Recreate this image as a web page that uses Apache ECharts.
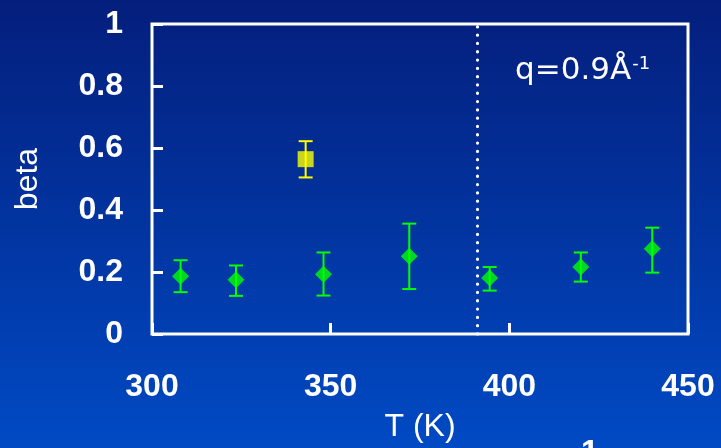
<!DOCTYPE html>
<html>
<head>
<meta charset="utf-8">
<script src="https://cdn.jsdelivr.net/npm/echarts@6/dist/echarts.min.js"></script>
<style>
  html, body { margin: 0; padding: 0; }
  #chart { width: 721px; height: 448px; }
</style>
</head>
<body>
<div id="chart"></div>
<script>
// Stretching exponent beta versus temperature
const temps    = [308, 323.5, 348, 372, 394.5, 420, 440];
const betaVals = [0.186, 0.175, 0.193, 0.251, 0.181, 0.216, 0.275];
const betaLow  = [0.135, 0.123, 0.124, 0.145, 0.140, 0.169, 0.198];
const betaHigh = [0.238, 0.221, 0.263, 0.356, 0.216, 0.263, 0.343];

// Single highlighted point
const oddTemp = [343];
const oddBeta = [0.564];
const oddLow  = [0.505];
const oddHigh = [0.622];

// Transition temperature marker
const transitionT = 391;

const xTicks = [300, 350, 400, 450];
const yTicks = [0, 0.2, 0.4, 0.6, 0.8, 1];

const mainPoints = temps.map((t, i) => [t, betaVals[i]]);
const mainBars   = temps.map((t, i) => [t, betaLow[i], betaHigh[i]]);
const oddPoints  = oddTemp.map((t, i) => [t, oddBeta[i]]);
const oddBars    = oddTemp.map((t, i) => [t, oddLow[i], oddHigh[i]]);

function errorBar(color) {
  return function (params, api) {
    const x = api.value(0);
    const lo = api.coord([x, api.value(1)]);
    const hi = api.coord([x, api.value(2)]);
    const half = 7;
    const style = { stroke: color, lineWidth: 2 };
    return {
      type: 'group',
      children: [
        { type: 'line', shape: { x1: lo[0], y1: lo[1], x2: hi[0], y2: hi[1] }, style },
        { type: 'line', shape: { x1: lo[0] - half, y1: lo[1], x2: lo[0] + half, y2: lo[1] }, style },
        { type: 'line', shape: { x1: hi[0] - half, y1: hi[1], x2: hi[0] + half, y2: hi[1] }, style }
      ]
    };
  };
}

const chart = echarts.init(document.getElementById('chart'), null, { renderer: 'canvas' });

chart.setOption({
  animation: false,
  backgroundColor: {
    type: 'linear', x: 0, y: 0, x2: 0, y2: 1,
    colorStops: [
      { offset: 0, color: '#041e7c' },
      { offset: 1, color: '#004ac4' }
    ]
  },
  grid: {
    left: 152, right: 33, top: 24, bottom: 112,
    show: true,
    borderColor: '#ffffff',
    borderWidth: 3,
    backgroundColor: 'transparent'
  },
  xAxis: {
    type: 'value',
    min: xTicks[0], max: xTicks[xTicks.length - 1], interval: 50,
    name: 'T (K)',
    nameLocation: 'middle',
    nameGap: 77,
    nameTextStyle: { color: '#ffffff', fontSize: 32, fontFamily: 'Liberation Sans' },
    axisLine: { show: false },
    axisTick: { show: true, inside: true, length: 11, lineStyle: { color: '#ffffff', width: 3 } },
    axisLabel: { color: '#ffffff', fontSize: 32, fontWeight: 'bold', fontFamily: 'Liberation Sans', margin: 37 },
    splitLine: { show: false }
  },
  yAxis: {
    type: 'value',
    min: yTicks[0], max: yTicks[yTicks.length - 1], interval: 0.2,
    name: 'beta',
    nameLocation: 'middle',
    nameGap: 108,
    nameRotate: 90,
    nameTextStyle: { color: '#ffffff', fontSize: 32, fontFamily: 'Liberation Sans' },
    axisLine: { show: false },
    axisTick: { show: true, inside: true, length: 11, lineStyle: { color: '#ffffff', width: 3 } },
    axisLabel: { color: '#ffffff', fontSize: 32, fontWeight: 'bold', fontFamily: 'Liberation Sans', margin: 29 },
    splitLine: { show: false }
  },
  graphic: [
    {
      type: 'text',
      left: 515, top: 55,
      style: {
        text: '{m|q=0.9Å}{s|-1}',
        rich: {
          m: { fontSize: 31, fontFamily: 'DejaVu Sans', fill: '#ffffff', verticalAlign: 'bottom' },
          s: { fontSize: 18, fontFamily: 'DejaVu Sans', fill: '#ffffff', verticalAlign: 'top', padding: [0, 0, 12, 1] }
        }
      }
    },
    {
      type: 'text',
      left: 581, top: 437,
      style: { text: '1', fontSize: 32, fontWeight: 'bold', fontFamily: 'Liberation Sans', fill: '#ffffff' }
    }
  ],
  series: [
    {
      type: 'custom',
      name: 'errMain',
      renderItem: errorBar('#00ff00'),
      data: mainBars,
      encode: { x: 0, y: [1, 2] },
      z: 2
    },
    {
      type: 'scatter',
      name: 'beta',
      data: mainPoints,
      symbol: 'diamond',
      symbolSize: [17, 17],
      itemStyle: { color: '#00ff00' },
      z: 3,
      markLine: {
        silent: true,
        symbol: 'none',
        label: { show: false },
        lineStyle: { color: '#ffffff', width: 3.2, type: [0.1, 8.2], cap: 'round' },
        data: [{ xAxis: transitionT }]
      }
    },
    {
      type: 'custom',
      name: 'errOdd',
      renderItem: errorBar('#ffff00'),
      data: oddBars,
      encode: { x: 0, y: [1, 2] },
      z: 2
    },
    {
      type: 'scatter',
      name: 'odd',
      data: oddPoints,
      symbol: 'rect',
      symbolSize: [16, 16],
      itemStyle: { color: '#ffff00' },
      z: 3
    }
  ]
});
</script>
</body>
</html>
